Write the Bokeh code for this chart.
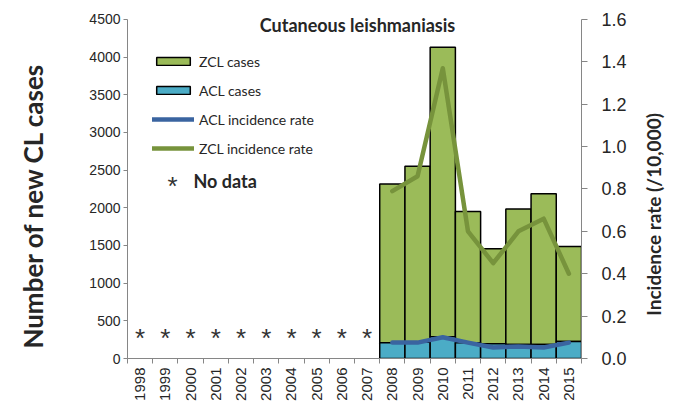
import math
from bokeh.plotting import figure
from bokeh.models import (Range1d, LinearAxis, FixedTicker, Legend, LegendItem,
                          Label, ColumnDataSource, CustomJSTickFormatter)
from bokeh.core.properties import value
from bokeh.embed import file_html
from bokeh.resources import INLINE

# ---------------- data ----------------
all_years = list(range(1998, 2016))
nodata_years = list(range(1998, 2008))
data_years = list(range(2008, 2016))
acl_cases = [210, 215, 290, 210, 195, 185, 185, 225]
zcl_cases = [2106, 2335, 3840, 1740, 1260, 1800, 2000, 1260]
zcl_rate = [0.79, 0.86, 1.37, 0.60, 0.45, 0.60, 0.66, 0.40]
acl_rate = [0.075, 0.075, 0.10, 0.075, 0.052, 0.057, 0.052, 0.075]
left_ticks = list(range(0, 4501, 500))
right_ticks = [0.0, 0.2, 0.4, 0.6, 0.8, 1.0, 1.2, 1.4, 1.6]
LEFT_MAX = 4500
RIGHT_MAX = 1.6
NODATA_LEVEL = 278

# ---------------- layout / style ----------------
W, H = 679, 403
FRAME_L, FRAME_R, FRAME_B = 127, 587, 359   # frame edges (px)
AXIS_TOP = 19                                # px where the axis maxima sit
stretch = FRAME_B / (FRAME_B - AXIS_TOP)     # frame reaches to canvas top
EM, EN = "\u2003", "\u2002"                  # padding that nudges axis titles

FONT = "Lato"
NUMFONT = "Liberation Sans"
ZCL_FILL = "#9BBB59"
ACL_FILL = "#4BACC6"
ZCL_LINE = "#77933C"
ACL_LINE = "#3A64A0"
AXIS = "#868686"
TXT = "#262626"

first = all_years[0]
xc = [y - first + 0.5 for y in data_years]
xn = [y - first + 0.5 for y in nodata_years]
tops = [a + z for a, z in zip(acl_cases, zcl_cases)]

p = figure(width=W, height=H, output_backend="svg", toolbar_location=None,
           x_range=Range1d(0, len(all_years)), y_range=Range1d(0, LEFT_MAX * stretch),
           min_border_left=FRAME_L, min_border_right=W - FRAME_R, min_border_top=0,
           min_border_bottom=H - FRAME_B)
p.title.visible = False
p.outline_line_color = None
p.xgrid.visible = False
p.ygrid.visible = False
p.extra_y_ranges = {"rate": Range1d(0, RIGHT_MAX * stretch)}

src = ColumnDataSource(dict(x=xc, acl=acl_cases, top=tops, zr=zcl_rate, ar=acl_rate))
r_zcl = p.vbar(x="x", width=1, bottom="acl", top="top", source=src,
               fill_color=ZCL_FILL, line_color="black", line_width=1.5)
r_acl = p.vbar(x="x", width=1, bottom=0, top="acl", source=src,
               fill_color=ACL_FILL, line_color="black", line_width=1.5)
r_zl = p.line(x="x", y="zr", source=src, y_range_name="rate",
              line_color=ZCL_LINE, line_width=4.5, line_cap="round", line_join="round")
r_al = p.line(x="x", y="ar", source=src, y_range_name="rate",
              line_color=ACL_LINE, line_width=4.5, line_cap="round", line_join="round")

p.text(x=xn, y=[NODATA_LEVEL] * len(xn), text=["*"] * len(xn),
       text_font=value(NUMFONT), text_font_size="26px", text_color="#333333",
       text_align="center", text_baseline="middle")

# x axis
xa = p.xaxis[0]
xa.ticker = FixedTicker(ticks=[y - first + 0.5 for y in all_years],
                        minor_ticks=list(range(0, len(all_years) + 1)))
xa.major_label_overrides = {y - first + 0.5: str(y) for y in all_years}
xa.major_label_orientation = math.pi / 2
xa.major_tick_out = 0
xa.major_tick_in = 0
xa.minor_tick_out = 5
xa.minor_tick_in = 0
xa.minor_tick_line_color = AXIS
xa.axis_line_color = AXIS
xa.major_label_standoff = 4
xa.major_label_text_font = NUMFONT
xa.major_label_text_font_size = "15px"
xa.major_label_text_color = TXT

# left axis
ya = p.yaxis[0]
ya.ticker = FixedTicker(ticks=left_ticks)
ya.bounds = (0, LEFT_MAX)
ya.axis_line_color = AXIS
ya.major_tick_line_color = AXIS
ya.major_tick_out = 4
ya.major_tick_in = 0
ya.minor_tick_line_color = None
ya.major_label_text_font = NUMFONT
ya.major_label_text_font_size = "14px"
ya.major_label_text_color = TXT
ya.major_label_standoff = 3

# left axis title carried by a bare axis (no line, no ticks)
lt = LinearAxis(ticker=FixedTicker(ticks=[]),
                axis_label="Number of new CL cases" + EM + EM + EN,
                axis_line_color=None,
                major_tick_line_color=None, minor_tick_line_color=None,
                major_label_text_font_size="0px", axis_label_standoff=38,
                axis_label_text_font=FONT, axis_label_text_font_size="26px",
                axis_label_text_font_style="bold", axis_label_text_color=TXT)
p.add_layout(lt, "left")

# right axis
ra = LinearAxis(y_range_name="rate", ticker=FixedTicker(ticks=right_ticks),
                bounds=(0, RIGHT_MAX))
ra.formatter = CustomJSTickFormatter(code="return tick.toFixed(1);")
ra.axis_line_color = AXIS
ra.major_tick_line_color = AXIS
ra.major_tick_out = 6
ra.major_tick_in = 0
ra.minor_tick_line_color = None
ra.major_label_text_font = NUMFONT
ra.major_label_text_font_size = "18px"
ra.major_label_text_color = TXT
ra.major_label_standoff = 14
p.add_layout(ra, "right")

rt = LinearAxis(y_range_name="rate", ticker=FixedTicker(ticks=[]),
                axis_line_color=None,
                major_tick_line_color=None, minor_tick_line_color=None,
                major_label_text_font_size="0px",
                axis_label_text_font=FONT, axis_label_text_font_size="19px",
                axis_label_text_font_style="bold", axis_label_text_color=TXT)
RIGHT_TITLE = "Incidence rate (/10,000)"
if "axis_label_align" in LinearAxis.properties():
    rt.axis_label_align = "start"
    rt.axis_label_orientation = math.pi / 2
    rt.axis_label = EM + EM + EM + RIGHT_TITLE
    rt.axis_label_standoff = 24
else:
    rt.axis_label = RIGHT_TITLE
    rt.axis_label_standoff = 24
p.add_layout(rt, "right")

# legends
leg = Legend(items=[LegendItem(label="ZCL cases", renderers=[r_zcl]),
                    LegendItem(label="ACL cases", renderers=[r_acl]),
                    LegendItem(label="ACL incidence rate", renderers=[r_al]),
                    LegendItem(label="ZCL incidence rate", renderers=[r_zl])],
             location=(25, 200), padding=0, margin=0, spacing=9,
             glyph_width=42, glyph_height=10, label_height=20, label_standoff=5,
             border_line_alpha=0, background_fill_alpha=0,
             label_text_font=FONT, label_text_font_size="14px", label_text_color=TXT)
p.add_layout(leg, "center")

p.add_layout(Label(x=45, y=173, x_units="screen", y_units="screen", text="*",
                   text_font=NUMFONT, text_font_size="26px", text_color="#333333",
                   text_align="center", text_baseline="middle"))
p.add_layout(Label(x=66, y=178, x_units="screen", y_units="screen", text="No data",
                   text_font=FONT, text_font_size="18px", text_font_style="bold",
                   text_color=TXT, text_align="left", text_baseline="middle"))

# chart title
p.add_layout(Label(x=230, y=334, x_units="screen", y_units="screen",
                   text="Cutaneous leishmaniasis", text_font=FONT,
                   text_font_size="18px", text_font_style="bold", text_color=TXT,
                   text_align="center", text_baseline="middle"))

open("out.html", "w").write(file_html(p, INLINE))
